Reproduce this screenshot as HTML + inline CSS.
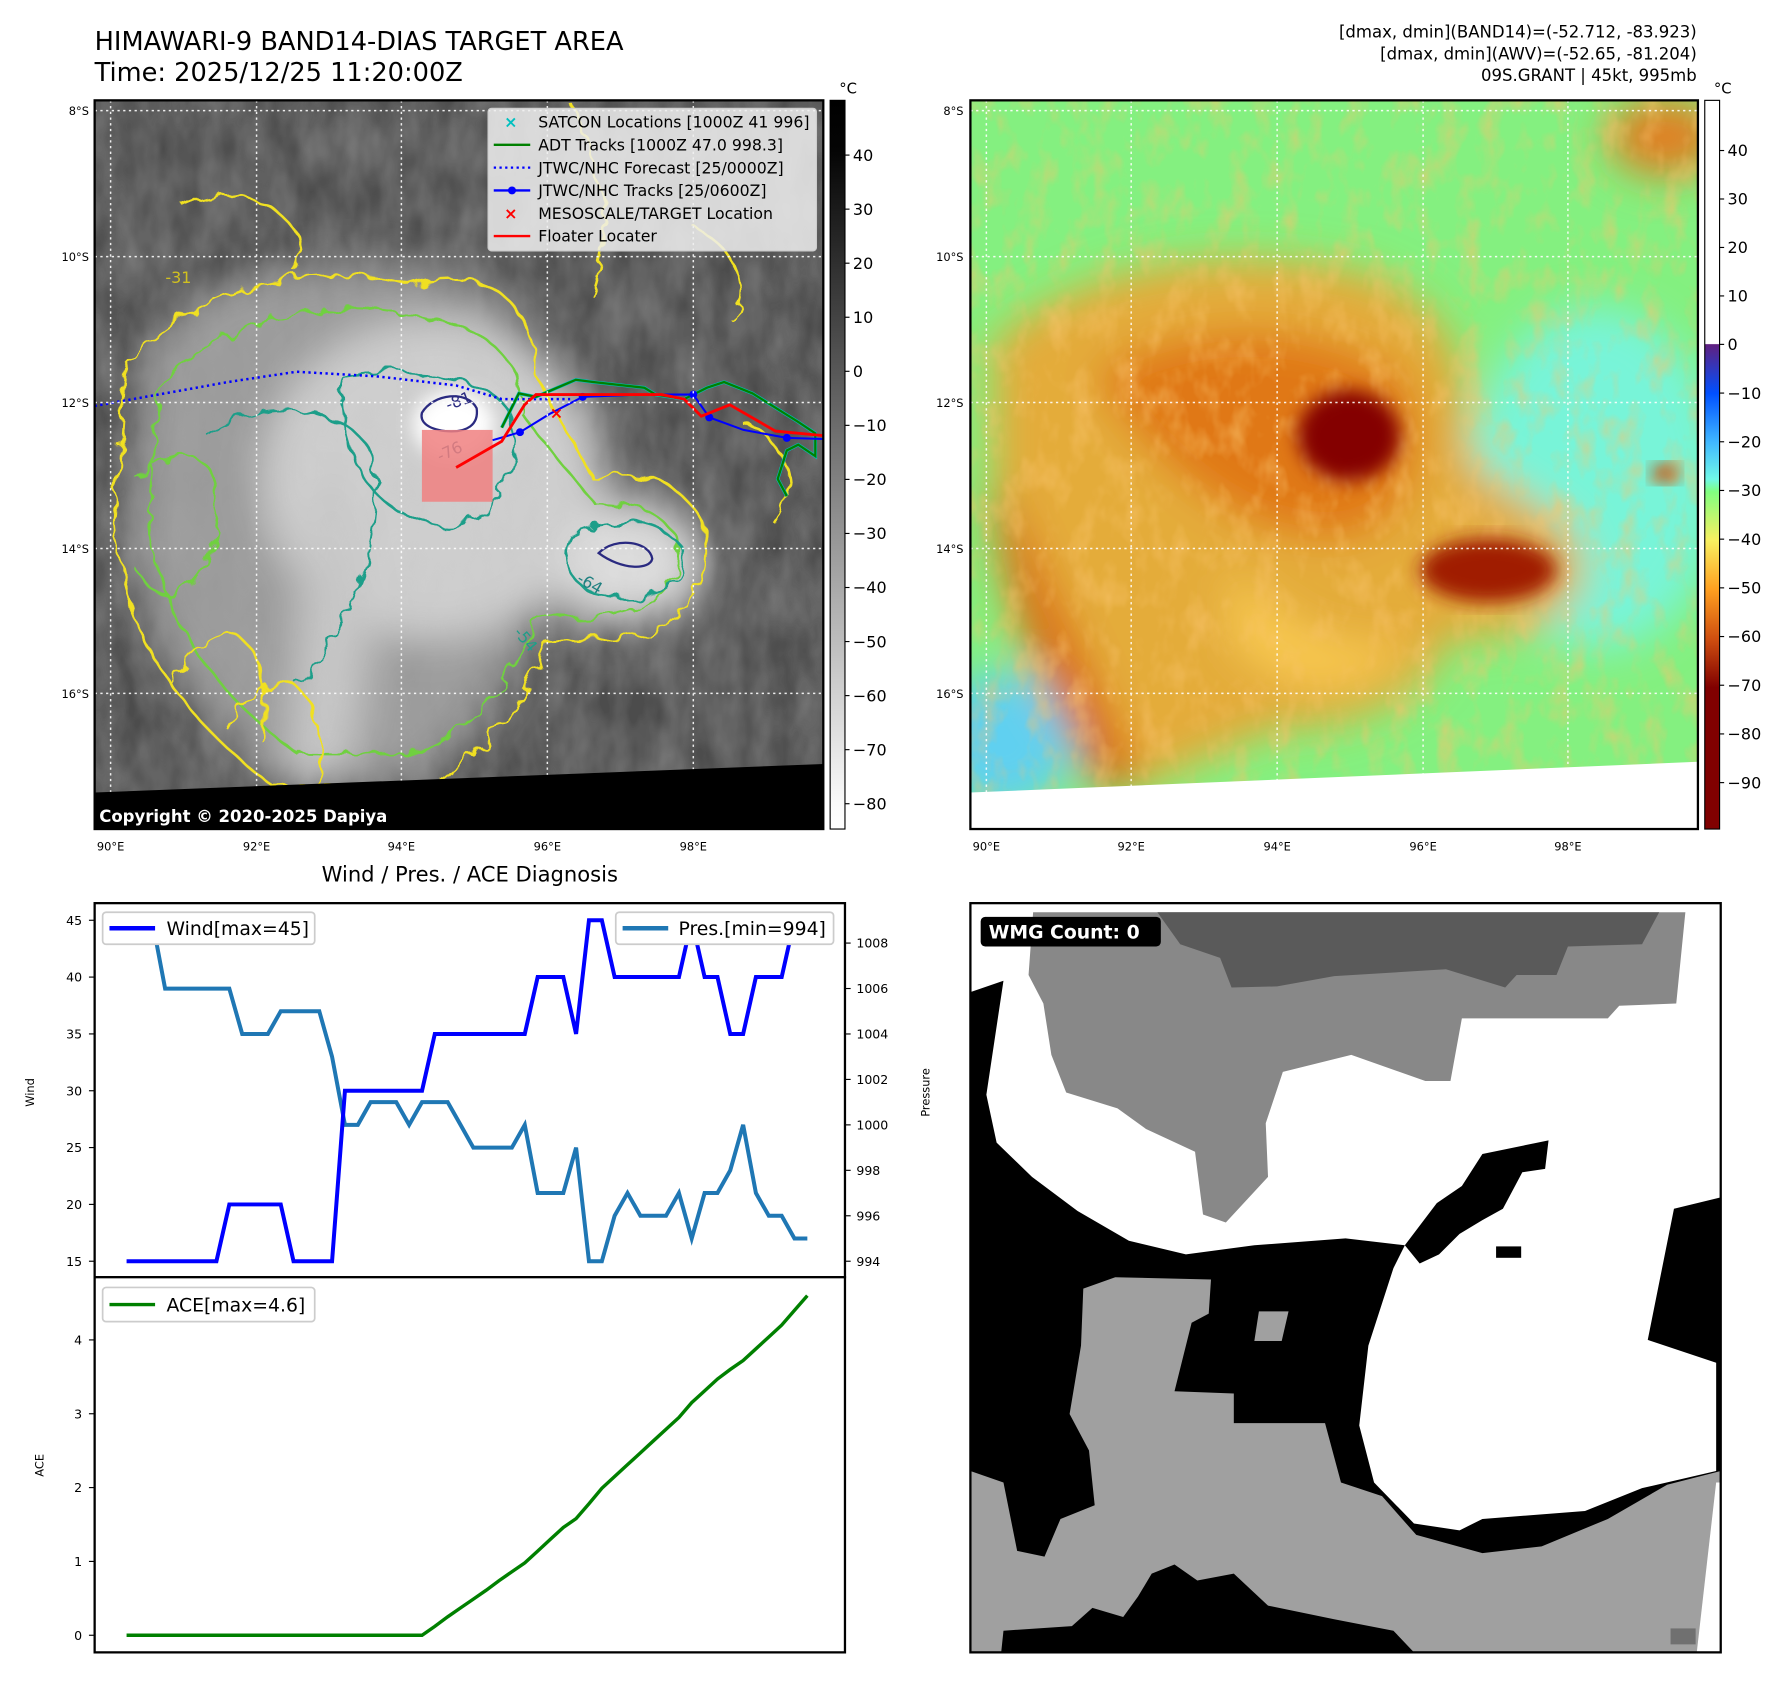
<!DOCTYPE html>
<html><head><meta charset="utf-8"><style>
html,body{margin:0;padding:0;background:#fff;overflow:hidden;}
svg{display:block;font-family:"DejaVu Sans","Liberation Sans",sans-serif;}
</style></head><body>
<svg id="root" width="1788" height="1690" viewBox="0 0 1568 1482" preserveAspectRatio="none" xmlns="http://www.w3.org/2000/svg">
<defs>
<filter id="blur8" x="-20%" y="-20%" width="140%" height="140%"><feGaussianBlur stdDeviation="8"/></filter>
<filter id="blur18" x="-30%" y="-30%" width="160%" height="160%"><feGaussianBlur stdDeviation="18"/></filter>
<filter id="squig" x="-10%" y="-10%" width="120%" height="120%"><feTurbulence type="fractalNoise" baseFrequency="0.06" numOctaves="2" seed="3"/><feDisplacementMap in="SourceGraphic" scale="16"/></filter>
<filter id="tex" x="0" y="0" width="100%" height="100%"><feTurbulence type="fractalNoise" baseFrequency="0.04 0.02" numOctaves="3" seed="7"/><feColorMatrix type="matrix" values="0 0 0 0 0.5  0 0 0 0 0.5  0 0 0 0 0.5  0 0 0 0.6 -0.1"/></filter>
<filter id="texO" x="0" y="0" width="100%" height="100%"><feTurbulence type="fractalNoise" baseFrequency="0.05 0.03" numOctaves="3" seed="11"/><feColorMatrix type="matrix" values="0 0 0 0 0.95  0 0 0 0 0.55  0 0 0 0 0.15  0 0 0 2.2 -1.0"/></filter>
<clipPath id="clipL"><rect x="83" y="88" width="639" height="639"/></clipPath>
<clipPath id="clipR"><rect x="851" y="88" width="638" height="639"/></clipPath>
<linearGradient id="cbL" x1="0" y1="0" x2="0" y2="1"><stop offset="0" stop-color="#000"/><stop offset="0.07" stop-color="#050505"/><stop offset="0.965" stop-color="#fafafa"/><stop offset="1" stop-color="#fff"/></linearGradient>
<linearGradient id="cbR" x1="0" y1="0" x2="0" y2="1">
<stop offset="0" stop-color="#fff"/><stop offset="0.334" stop-color="#fff"/><stop offset="0.335" stop-color="#602080"/>
<stop offset="0.402" stop-color="#0050ff"/><stop offset="0.469" stop-color="#40b8ff"/><stop offset="0.52" stop-color="#70f8e8"/>
<stop offset="0.537" stop-color="#80ff80"/><stop offset="0.604" stop-color="#f8f060"/><stop offset="0.671" stop-color="#ffa020"/>
<stop offset="0.738" stop-color="#d05010"/><stop offset="0.806" stop-color="#800000"/><stop offset="1" stop-color="#800000"/></linearGradient>
</defs>

<!-- Titles -->
<text x="83" y="44" font-size="22.5">HIMAWARI-9 BAND14-DIAS TARGET AREA</text>
<text x="83" y="71" font-size="22.5">Time: 2025/12/25 11:20:00Z</text>
<g font-size="14.5" text-anchor="end">
<text x="1488" y="33">[dmax, dmin](BAND14)=(-52.712, -83.923)</text>
<text x="1488" y="52">[dmax, dmin](AWV)=(-52.65, -81.204)</text>
<text x="1488" y="71">09S.GRANT | 45kt, 995mb</text>
</g>

<!-- LEFT MAP -->
<g clip-path="url(#clipL)">
<rect x="83" y="88" width="639" height="639" fill="#4c4c4c"/>
<rect x="83" y="88" width="639" height="639" filter="url(#tex)" opacity="0.6"/>
<g filter="url(#blur18)">
<path d="M130 300 C200 220 320 220 420 250 C470 270 470 320 440 350 L520 430 C610 420 630 480 600 520 C560 560 500 560 470 540 C450 600 420 650 360 690 L250 690 C180 640 120 560 110 460 Z" fill="#9a9a9a"/>
<ellipse cx="380" cy="420" rx="150" ry="140" fill="#cfcfcf"/>
<ellipse cx="555" cy="495" rx="65" ry="50" fill="#dedede"/>
<path d="M300 420 C330 520 330 600 300 690 L250 690 C260 600 260 500 280 420Z" fill="#c8c8c8"/>
</g>
<rect x="83" y="88" width="639" height="639" filter="url(#tex)" opacity="0.35"/>
<ellipse cx="398" cy="372" rx="36" ry="30" fill="#ffffff" filter="url(#blur8)"/>
<g fill="none" stroke-width="2.2" filter="url(#squig)">
<path d="M110 320 C180 240 300 230 360 250 C420 230 470 260 470 330 L520 420 C600 400 640 470 610 520 C580 570 520 560 480 560 C460 620 420 660 380 690 L240 690 C160 630 110 560 100 460 Z" stroke="#f0e020"/>
<path d="M140 340 C200 270 300 260 380 280 C440 290 460 330 455 360 L520 440 C590 440 610 480 585 515 C560 545 510 545 470 540 C450 600 410 640 370 660 L260 660 C190 610 140 540 130 460 Z" stroke="#70d040"/>
<path d="M300 330 C360 320 440 330 450 370 C460 420 420 470 380 460 C330 450 300 410 300 330Z" stroke="#1f9e89"/>
<path d="M500 470 C540 450 600 460 600 490 C600 520 560 530 520 520 C500 510 490 490 500 470Z" stroke="#1f9e89"/>
<path d="M180 380 C240 340 330 360 330 420 C330 500 300 560 260 600" stroke="#1f9e89"/>
<path d="M150 600 C200 520 240 560 230 650" stroke="#f0e020"/>
<path d="M200 640 C240 560 290 600 280 690" stroke="#f0e020"/>
<path d="M120 420 C160 380 200 400 190 460 C180 520 140 540 120 500" stroke="#70d040"/>
<path d="M500 90 C530 150 540 200 520 260" stroke="#f0e020"/>
<path d="M610 200 C650 220 660 260 640 280" stroke="#f0e020"/>
<path d="M160 180 C220 150 280 200 260 240" stroke="#f0e020"/>
<path d="M650 370 C690 380 700 430 680 460" stroke="#f0e020"/>
</g>
<path d="M370 362 C380 345 410 342 418 358 C420 372 410 380 390 378 C375 376 368 370 370 362Z" fill="none" stroke="#2a2a80" stroke-width="2"/>
<path d="M525 485 C540 470 570 475 572 490 C570 500 545 500 525 485Z" fill="none" stroke="#2a2a80" stroke-width="2"/>
<text x="393" y="360" font-size="14" fill="#2a2a80" transform="rotate(-20 393 360)">-81</text>
<text x="386" y="405" font-size="14" fill="#2a5a80" transform="rotate(-25 386 405)">-76</text>
<text x="505" y="510" font-size="14" fill="#1f8080" transform="rotate(30 505 510)">-64</text>
<text x="450" y="555" font-size="14" fill="#1f9e89" transform="rotate(50 450 555)">-54</text>
<text x="145" y="248" font-size="14" fill="#d0c020">-31</text>
<rect x="370" y="377" width="62" height="63" fill="#f08080" opacity="0.85"/>
<polyline points="83,356 150,344 200,335 260,326 330,330 400,338 440,350 500,350" fill="none" stroke="#0000ff" stroke-width="2.2" stroke-dasharray="2,3"/>
<polyline points="440,375 455,345 470,348 505,333 520,335 565,340 575,346 600,350 620,340 635,335 660,345 700,370 715,380 715,400 700,390 690,395 682,420 690,435" fill="none" stroke="#00c0c0" stroke-width="3"/>
<polyline points="440,375 455,345 470,348 505,333 520,335 565,340 575,346 600,350 620,340 635,335 660,345 700,370 715,380 715,400 700,390 690,395 682,420 690,435" fill="none" stroke="#008000" stroke-width="2"/>
<polyline points="432,386 456,379 482,363 511,348 560,346 608,346 622,366 652,377 690,384 722,385" fill="none" stroke="#0000ff" stroke-width="1.8"/>
<g fill="#0000ff"><circle cx="456" cy="379" r="3.5"/><circle cx="511" cy="348" r="3.5"/><circle cx="608" cy="346" r="3.5"/><circle cx="622" cy="366" r="3.5"/><circle cx="690" cy="384" r="3.5"/></g>
<polyline points="400,410 440,387 460,355 470,346 580,346 600,350 615,365 640,355 680,378 722,382" fill="none" stroke="#ff0000" stroke-width="2.5"/>
<text x="488" y="367" font-size="14" fill="#ff0000" text-anchor="middle" font-weight="bold">×</text>
<g stroke="#fff" stroke-width="1.3" stroke-dasharray="2,3" opacity="0.9">
<line x1="97" y1="88" x2="97" y2="727"/><line x1="225" y1="88" x2="225" y2="727"/><line x1="352" y1="88" x2="352" y2="727"/><line x1="480" y1="88" x2="480" y2="727"/><line x1="608" y1="88" x2="608" y2="727"/>
<line x1="83" y1="97" x2="722" y2="97"/><line x1="83" y1="225" x2="722" y2="225"/><line x1="83" y1="353" x2="722" y2="353"/><line x1="83" y1="481" x2="722" y2="481"/><line x1="83" y1="608" x2="722" y2="608"/>
</g>
<polygon points="83,695 722,670 722,727 83,727" fill="#000"/>
</g>
<rect x="83" y="88" width="639" height="639" fill="none" stroke="#000" stroke-width="2"/>
<text x="87" y="721" font-size="14.5" font-weight="bold" fill="#fff">Copyright © 2020-2025 Dapiya</text>
<!-- legend -->
<g>
<rect x="428" y="95" width="288" height="125" rx="3" fill="#eee" fill-opacity="0.85" stroke="#ccc"/>
<g font-size="13.8" fill="#000">
<text x="472" y="112">SATCON Locations [1000Z 41 996]</text>
<text x="472" y="132">ADT Tracks [1000Z 47.0 998.3]</text>
<text x="472" y="152">JTWC/NHC Forecast [25/0000Z]</text>
<text x="472" y="172">JTWC/NHC Tracks [25/0600Z]</text>
<text x="472" y="192">MESOSCALE/TARGET Location</text>
<text x="472" y="212">Floater Locater</text>
</g>
<text x="448" y="112" font-size="14" font-weight="bold" fill="#00c0c0" text-anchor="middle">×</text>
<line x1="433" y1="127" x2="465" y2="127" stroke="#008000" stroke-width="2"/>
<line x1="433" y1="147" x2="465" y2="147" stroke="#0000ff" stroke-width="2" stroke-dasharray="2,3"/>
<line x1="433" y1="167" x2="465" y2="167" stroke="#0000ff" stroke-width="2"/><circle cx="449" cy="167" r="3.5" fill="#0000ff"/>
<text x="448" y="192" font-size="14" font-weight="bold" fill="#ff0000" text-anchor="middle">×</text>
<line x1="433" y1="207" x2="465" y2="207" stroke="#ff0000" stroke-width="2"/>
</g>
<g font-size="10" text-anchor="end">
<text x="78" y="101">8°S</text><text x="78" y="229">10°S</text><text x="78" y="357">12°S</text><text x="78" y="485">14°S</text><text x="78" y="612">16°S</text></g>
<g font-size="10" text-anchor="middle">
<text x="97" y="746">90°E</text><text x="225" y="746">92°E</text><text x="352" y="746">94°E</text><text x="480" y="746">96°E</text><text x="608" y="746">98°E</text></g>
<rect x="728" y="88" width="13" height="639" fill="url(#cbL)" stroke="#000" stroke-width="1"/>
<text x="736" y="82" font-size="13">°C</text>
<g id="cbLticks" font-size="14"></g>

<!-- RIGHT MAP -->
<g clip-path="url(#clipR)">
<rect x="851" y="88" width="638" height="639" fill="#84f080"/>
<g filter="url(#blur18)">
<ellipse cx="1400" cy="420" rx="110" ry="150" fill="#78f4d8"/>
<ellipse cx="880" cy="650" rx="60" ry="60" fill="#60d0f0"/>
<path d="M870 300 C950 230 1080 210 1200 240 C1280 270 1290 330 1290 400 C1330 440 1390 450 1390 500 C1380 560 1300 560 1270 560 C1250 620 1180 640 1120 640 L1000 690 C930 660 880 560 870 450 Z" fill="#f4a030" opacity="0.85"/>
<path d="M960 330 C1040 280 1150 280 1230 330 C1260 400 1230 470 1170 470 C1090 470 1040 420 1000 380Z" fill="#e07818"/>
<ellipse cx="1460" cy="120" rx="50" ry="35" fill="#e08020"/>
<path d="M1080 500 C1120 540 1170 580 1240 560 C1200 620 1120 610 1080 560Z" fill="#f8c850"/>
<path d="M880 430 C920 520 960 600 1000 690 L960 690 C920 600 880 520 870 430Z" fill="#d86010"/>
</g>
<rect x="851" y="88" width="638" height="639" filter="url(#texO)" opacity="0.55"/>
<ellipse cx="1183" cy="382" rx="45" ry="40" fill="#840000" filter="url(#blur8)"/>
<ellipse cx="1305" cy="500" rx="60" ry="28" fill="#a01c00" filter="url(#blur8)"/>
<ellipse cx="1460" cy="415" rx="12" ry="8" fill="#c04000" filter="url(#blur8)"/>
<g stroke="#fff" stroke-width="1.3" stroke-dasharray="2,3" opacity="0.9">
<line x1="865" y1="88" x2="865" y2="727"/><line x1="992" y1="88" x2="992" y2="727"/><line x1="1120" y1="88" x2="1120" y2="727"/><line x1="1248" y1="88" x2="1248" y2="727"/><line x1="1375" y1="88" x2="1375" y2="727"/>
<line x1="851" y1="97" x2="1489" y2="97"/><line x1="851" y1="225" x2="1489" y2="225"/><line x1="851" y1="353" x2="1489" y2="353"/><line x1="851" y1="481" x2="1489" y2="481"/><line x1="851" y1="608" x2="1489" y2="608"/>
</g>
<polygon points="851,695 1489,668 1489,727 851,727" fill="#fff"/>
</g>
<rect x="851" y="88" width="638" height="639" fill="none" stroke="#000" stroke-width="2"/>
<g font-size="10" text-anchor="end">
<text x="845" y="101">8°S</text><text x="845" y="229">10°S</text><text x="845" y="357">12°S</text><text x="845" y="485">14°S</text><text x="845" y="612">16°S</text></g>
<g font-size="10" text-anchor="middle">
<text x="865" y="746">90°E</text><text x="992" y="746">92°E</text><text x="1120" y="746">94°E</text><text x="1248" y="746">96°E</text><text x="1375" y="746">98°E</text></g>
<rect x="1495" y="88" width="13" height="639" fill="url(#cbR)" stroke="#000" stroke-width="1"/>
<text x="1503" y="82" font-size="13">°C</text>
<g id="cbRticks" font-size="14"></g>

<!-- CHARTS -->
<text x="412" y="773" font-size="18.5" text-anchor="middle">Wind / Pres. / ACE Diagnosis</text>
<rect x="83" y="792" width="658" height="328" fill="#fff" stroke="#000" stroke-width="2"/>
<rect x="83" y="1120" width="658" height="329" fill="#fff" stroke="#000" stroke-width="2"/>
<g id="chart"></g>
<text transform="translate(30 958) rotate(-90)" font-size="10" text-anchor="middle">Wind</text>
<text transform="translate(815 958) rotate(-90)" font-size="10" text-anchor="middle">Pressure</text>
<text transform="translate(38 1285) rotate(-90)" font-size="10" text-anchor="middle">ACE</text>
<g>
<rect x="90" y="800" width="186" height="28" rx="3" fill="#fff" stroke="#ccc" stroke-width="1.5"/>
<line x1="96" y1="814" x2="136" y2="814" stroke="#0000ff" stroke-width="4"/>
<text x="146" y="820" font-size="16.5">Wind[max=45]</text></g>
<g>
<rect x="540" y="800" width="191" height="28" rx="3" fill="#fff" stroke="#ccc" stroke-width="1.5"/>
<line x1="546" y1="814" x2="586" y2="814" stroke="#1f77b4" stroke-width="4"/>
<text x="595" y="820" font-size="16.5">Pres.[min=994]</text></g>
<g>
<rect x="90" y="1129" width="186" height="30" rx="3" fill="#fff" stroke="#ccc" stroke-width="1.5"/>
<line x1="96" y1="1144" x2="136" y2="1144" stroke="#008000" stroke-width="3"/>
<text x="146" y="1150" font-size="16.5">ACE[max=4.6]</text></g>

<!-- WMG -->
<g>
<rect x="851" y="792" width="658" height="657" fill="#000"/>
<polygon fill="#fff" points="851,792 1509,792 1509,1050 1468,1060 1445,1175 1505,1195 1505,1290 1440,1305 1390,1325 1300,1332 1280,1342 1240,1336 1205,1300 1192,1250 1200,1180 1222,1112 1232,1092 1180,1086 1100,1092 1040,1100 990,1088 945,1062 905,1032 874,1002 865,960 880,860 851,870"/>
<polygon fill="#000" points="1232,1092 1260,1055 1282,1040 1300,1012 1358,1000 1355,1025 1335,1028 1318,1060 1300,1070 1280,1082 1262,1100 1245,1108"/>
<rect x="1312" y="1093" width="22" height="10" fill="#000"/>
<polygon fill="#888" points="906,800 1478,800 1470,880 1420,882 1410,893 1282,893 1272,948 1250,948 1185,925 1125,940 1110,985 1112,1032 1075,1072 1055,1065 1048,1010 1005,990 980,972 935,958 922,925 915,880 902,855"/>
<polygon fill="#5a5a5a" points="1015,800 1455,800 1440,828 1375,830 1365,855 1330,855 1320,866 1268,850 1170,856 1120,865 1080,866 1070,840 1035,828"/>
<polygon fill="#a0a0a0" points="851,1290 880,1300 892,1360 916,1365 930,1332 960,1320 955,1272 938,1240 948,1180 950,1130 978,1120 1062,1122 1060,1152 1045,1160 1030,1220 1082,1222 1082,1248 1162,1248 1176,1300 1212,1312 1242,1346 1300,1362 1352,1356 1410,1332 1462,1302 1509,1290 1505,1449 1240,1449 1222,1430 1170,1420 1112,1408 1082,1380 1050,1386 1030,1372 1010,1380 998,1400 985,1418 958,1410 940,1426 880,1430 878,1449 851,1449"/>
<polygon fill="#a0a0a0" points="1104,1150 1130,1150 1124,1176 1100,1176"/>
<rect x="1465" y="1428" width="22" height="14" fill="#707070"/>
<polygon fill="#fff" points="1505,1300 1509,1300 1509,1449 1488,1449"/>
<rect x="851" y="792" width="658" height="657" fill="none" stroke="#000" stroke-width="2"/>
</g>
<rect x="860" y="804" width="158" height="26" rx="4" fill="#000"/>
<text x="867" y="823" font-size="16.5" font-weight="bold" fill="#fff">WMG Count: 0</text>
</svg>
<script>
const windVals=[15,15,15,15,15,15,15,15,20,20,20,20,20,15,15,15,15,30,30,30,30,30,30,30,35,35,35,35,35,35,35,35,40,40,40,35,45,45,40,40,40,40,40,40,45,40,40,35,35,40,40,40,45,45];
const presVals=[1009,1009,1009,1006,1006,1006,1006,1006,1006,1004,1004,1004,1005,1005,1005,1005,1003,1000,1000,1001,1001,1001,1000,1001,1001,1001,1000,999,999,999,999,1000,997,997,997,999,994,994,996,997,996,996,996,997,995,997,997,998,1000,997,996,996,995,995];
const aceVals=[0,0,0,0,0,0,0,0,0,0,0,0,0,0,0,0,0,0,0,0,0,0,0,0,0.12,0.25,0.37,0.49,0.61,0.74,0.86,0.98,1.14,1.30,1.46,1.58,1.78,1.99,2.15,2.31,2.47,2.63,2.79,2.95,3.15,3.31,3.47,3.60,3.72,3.88,4.04,4.20,4.40,4.60];
const windTicks=[15,20,25,30,35,40,45];
const presTicks=[994,996,998,1000,1002,1004,1006,1008];
const aceTicks=[0,1,2,3,4];
const cbLTicks=[40,30,20,10,0,-10,-20,-30,-40,-50,-60,-70,-80];
const cbRTicks=[40,30,20,10,0,-10,-20,-30,-40,-50,-60,-70,-80,-90];
const NS='http://www.w3.org/2000/svg';
const xS=i=>111+i*(597/(windVals.length-1));
const yW=v=>1106-(v-15)*(299/30);
const yP=p=>1106-(p-994)*(279/14);
const yA=a=>1434-a*64.75;
const yCL=v=>136+(40-v)*4.74;
const yCR=v=>v>=0?302-v*4.25:302+(-v)*4.27;
function mk(tag,attrs,parent){const e=document.createElementNS(NS,tag);for(const k in attrs)e.setAttribute(k,attrs[k]);parent.appendChild(e);return e;}
const chart=document.getElementById('chart');
function line(vals,yf,color,w,name){
  const p=mk('polyline',{points:vals.map((v,i)=>xS(i).toFixed(1)+','+yf(v).toFixed(1)).join(' '),fill:'none',stroke:color,'stroke-width':w},chart);
  
  
}
line(presVals,yP,'#1f77b4',3.5,'pressure-line');
line(windVals,yW,'#0000ff',3.5,'wind-line');
line(aceVals,yA,'#008000',3,'ace-line');
function tick(x1,x2,y,label,tx,anchor,name){
  mk('line',{x1:x1,x2:x2,y1:y,y2:y,stroke:'#000','stroke-width':1},chart);
  const t=mk('text',{x:tx,y:y+4,'font-size':11,'text-anchor':anchor},chart);
  t.textContent=label;
  
  
}
windTicks.forEach(v=>tick(78,83,yW(v),v,72,'end','wind-tick'));
presTicks.forEach(v=>tick(741,746,yP(v),v,751,'start','pressure-tick'));
aceTicks.forEach(v=>tick(78,83,yA(v),v,72,'end','ace-tick'));
const gL=document.getElementById('cbLticks');
cbLTicks.forEach(v=>{const y=yCL(v);mk('line',{x1:741,x2:745,y1:y,y2:y,stroke:'#000'},gL);const t=mk('text',{x:748,y:y+5},gL);t.textContent=v<0?'\u2212'+(-v):v;

});
const gR=document.getElementById('cbRticks');
cbRTicks.forEach(v=>{const y=yCR(v);mk('line',{x1:1508,x2:1512,y1:y,y2:y,stroke:'#000'},gR);const t=mk('text',{x:1515,y:y+5},gR);t.textContent=v<0?'\u2212'+(-v):v;

});
</script>
</body></html>
